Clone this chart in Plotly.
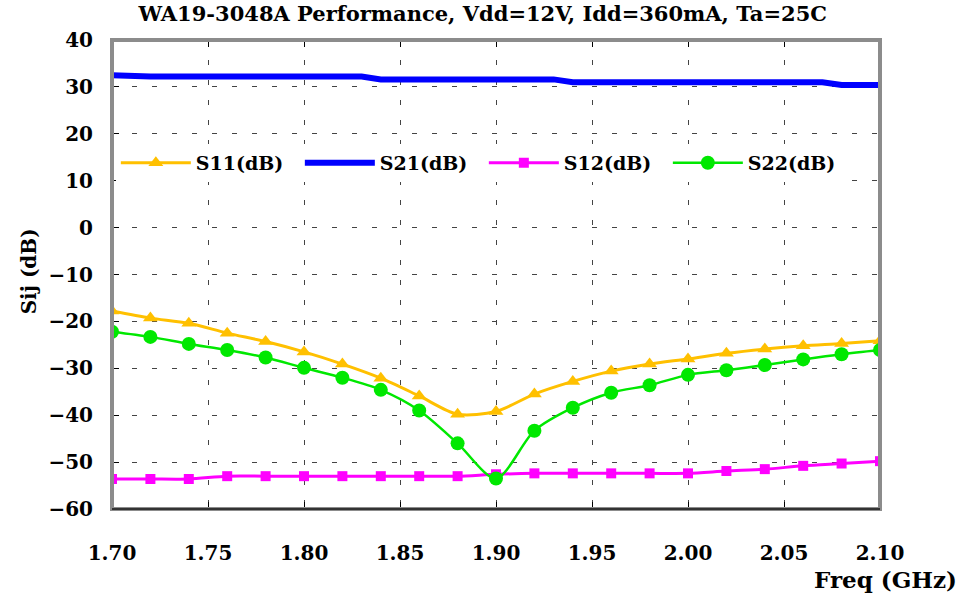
import plotly.graph_objects as go

# ---------------- data ----------------
freq = [1.70, 1.72, 1.74, 1.76, 1.78, 1.80, 1.82, 1.84, 1.86, 1.88, 1.90,
        1.92, 1.94, 1.96, 1.98, 2.00, 2.02, 2.04, 2.06, 2.08, 2.10]
s11 = [-17.8, -19.3, -20.4, -22.5, -24.3, -26.5, -29.1, -32.1, -35.9, -39.8, -39.2,
       -35.5, -32.8, -30.6, -29.1, -28.0, -26.8, -25.9, -25.2, -24.7, -24.1]
s22 = [-22.2, -23.3, -24.8, -26.1, -27.7, -29.9, -32.0, -34.6, -39.0, -46.0, -53.5,
       -43.3, -38.4, -35.2, -33.6, -31.4, -30.4, -29.3, -28.1, -27.0, -26.1]
s12 = [-53.6, -53.6, -53.6, -53.0, -53.0, -53.0, -53.0, -53.0, -53.0, -53.0, -52.6,
       -52.4, -52.4, -52.4, -52.4, -52.4, -51.9, -51.5, -50.8, -50.3, -49.8]
s21_freq = [1.70, 1.72, 1.83, 1.84, 1.93, 1.94, 2.07, 2.08, 2.10]
s21 = [32.5, 32.2, 32.2, 31.6, 31.6, 31.0, 31.0, 30.4, 30.4]

x_ticks = [1.70, 1.75, 1.80, 1.85, 1.90, 1.95, 2.00, 2.05, 2.10]
y_ticks = [40, 30, 20, 10, 0, -10, -20, -30, -40, -50, -60]

title_text = "WA19-3048A Performance, Vdd=12V, Idd=360mA, Ta=25C"
FONT = "DejaVu Serif"

fig = go.Figure()
fig.add_trace(go.Scatter(x=freq, y=s11, name="S11(dB)", mode="lines+markers",
                         line=dict(color="#FFC000", width=3, shape="spline", smoothing=0.8),
                         marker=dict(symbol="triangle-up", size=13, color="#FFC000")))
fig.add_trace(go.Scatter(x=s21_freq, y=s21, name="S21(dB)", mode="lines",
                         line=dict(color="#0000FF", width=6)))
fig.add_trace(go.Scatter(x=freq, y=s12, name="S12(dB)", mode="lines+markers",
                         line=dict(color="#FF00FF", width=3, shape="spline", smoothing=0.8),
                         marker=dict(symbol="square", size=10, color="#FF00FF")))
fig.add_trace(go.Scatter(x=freq, y=s22, name="S22(dB)", mode="lines+markers",
                         line=dict(color="#00E800", width=2.5, shape="spline", smoothing=0.8),
                         marker=dict(symbol="circle", size=14, color="#00E800")))

fig.update_layout(
    width=956, height=598,
    margin=dict(l=112, r=76, t=40, b=89),
    paper_bgcolor="white", plot_bgcolor="white",
    font=dict(family=FONT, size=20, color="black"),
    title=dict(text="<b>" + title_text + "</b>", x=0.505, xanchor="center",
               y=0.977, yanchor="middle", font=dict(family=FONT, size=21, color="black")),
    showlegend=True,
    legend=dict(orientation="h", x=0.005, y=0.738, xanchor="left", yanchor="middle",
                bgcolor="white", itemwidth=70, entrywidth=99, entrywidthmode="pixels",
                font=dict(family=FONT, size=19, color="black", weight="bold"),
                tracegroupgap=0, itemclick=False),
    xaxis=dict(range=[1.70, 2.10], tickvals=x_ticks, tickformat=".2f",
               showgrid=True, gridcolor="#444", gridwidth=1, griddash="5px,15px",
               ticks="inside", ticklen=7, tickcolor="black", mirror="ticks",
               showline=False, zeroline=False, ticklabelstandoff=30,
               tickfont=dict(family=FONT, size=20, color="black", weight="bold")),
    yaxis=dict(range=[-60, 40], tickvals=y_ticks,
               showgrid=True, gridcolor="#444", gridwidth=1, griddash="5px,15px",
               ticks="inside", ticklen=7, tickcolor="black",
               showline=False, zeroline=False, ticklabelstandoff=18,
               tickfont=dict(family=FONT, size=20, color="black", weight="bold")),
)

# frame
fig.add_shape(type="rect", xref="paper", yref="paper", x0=0, x1=1, y0=0, y1=1,
              line=dict(color="#8c8c8c", width=4), layer="above")
fig.add_shape(type="line", xref="paper", yref="paper", x0=0, x1=1, y0=0, y1=0,
              line=dict(color="#333333", width=2), layer="above")

fig.add_annotation(text="<b>Sij (dB)</b>", xref="paper", yref="paper",
                   x=-0.1076, y=0.5075, xanchor="center", yanchor="middle",
                   textangle=-90, showarrow=False,
                   font=dict(family=FONT, size=20, color="black"))
fig.add_annotation(text="<b>Freq (GHz)</b>", xref="paper", yref="paper",
                   x=1.1035, y=-0.151, xanchor="right", yanchor="middle",
                   showarrow=False, font=dict(family=FONT, size=23, color="black"))

fig.write_html("out.html", config={"displayModeBar": False},
               post_script="document.body.style.margin='0px';document.body.style.padding='0px';")
